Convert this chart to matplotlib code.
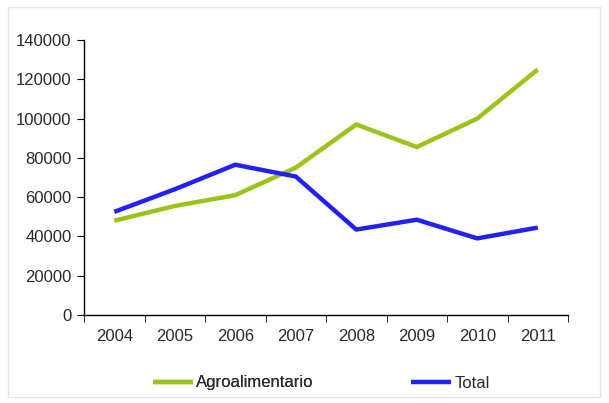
import matplotlib.pyplot as plt
import numpy as np
from matplotlib.patches import Rectangle

plt.rcParams['font.family'] = ['Liberation Sans', 'DejaVu Sans']

years = ['2004', '2005', '2006', '2007', '2008', '2009', '2010', '2011']
agro = [48000, 55500, 61000, 75000, 97000, 85500, 100000, 125000]
total = [52500, 64000, 76500, 70500, 43500, 48500, 39000, 44500]
y_ticks = [0, 20000, 40000, 60000, 80000, 100000, 120000, 140000]

fig = plt.figure(figsize=(6.09, 4.03), dpi=100)
# light frame around the chart area
fig.patches.append(Rectangle((8 / 609, 6 / 403), 592 / 609, 390 / 403,
                             transform=fig.transFigure, fill=False,
                             edgecolor='#e4e4e4', linewidth=1))

ax = fig.add_axes([84 / 609, 88 / 403, 484 / 609, 275 / 403])
x = np.arange(len(years))
l1, = ax.plot(x, agro, color='#9cc31a', linewidth=3.2, label='Agroalimentario',
              solid_capstyle='butt')
l2, = ax.plot(x, total, color='#2222f0', linewidth=3.2, label='Total',
              solid_capstyle='butt')

ax.set_xlim(-0.5, len(years) - 0.5)
ax.set_ylim(0, 140000)
ax.set_yticks(y_ticks)
ax.set_yticklabels([str(v) for v in y_ticks], fontsize=12, color='#2a2a2a')
ax.set_xticks(x)
ax.set_xticklabels(years, fontsize=12, color='#2a2a2a')
ax.tick_params(axis='x', length=0, pad=10)
ax.set_xticks(np.arange(-0.5, len(years), 1), minor=True)
ax.tick_params(axis='x', which='minor', length=5, direction='out')
ax.tick_params(axis='y', length=5, direction='out', pad=4)
for s in ['top', 'right']:
    ax.spines[s].set_visible(False)
for s in ['left', 'bottom']:
    ax.spines[s].set_color('black')
    ax.spines[s].set_linewidth(1)

# two separate legend entries, placed like the original
leg1 = fig.legend(handles=[l1], loc='center left',
                  bbox_to_anchor=(138 / 609, 20 / 403), frameon=False,
                  fontsize=12, handlelength=2.4, handletextpad=0.2,
                  labelcolor='#2a2a2a')
fig.add_artist(leg1)
fig.legend(handles=[l2], loc='center left',
           bbox_to_anchor=(396 / 609, 20 / 403), frameon=False,
           fontsize=12, handlelength=2.4, handletextpad=0.2,
           labelcolor='#2a2a2a')

fig.savefig('out.png', dpi=100)
